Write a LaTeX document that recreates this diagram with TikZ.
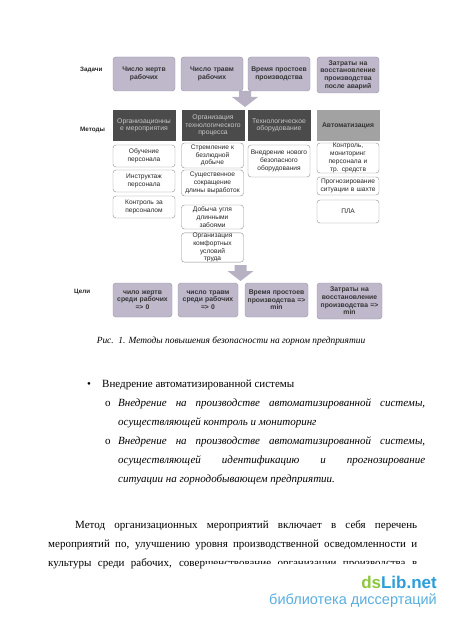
\documentclass[tikz,border=0pt]{standalone}
\usepackage{fontspec}
\setmainfont{Liberation Serif}
\setsansfont{Liberation Sans}
\usepackage{xcolor}
\usepackage{tikz}
\usetikzlibrary{arrows.meta}
\definecolor{zadfill}{HTML}{BFB8CB}
\definecolor{zadline}{HTML}{9890A4}
\definecolor{metfill}{HTML}{4B4B4B}
\definecolor{mettext}{HTML}{C9C9C9}
\definecolor{avtfill}{HTML}{A2A2A2}
\definecolor{subline}{HTML}{8C8C8C}
\definecolor{arrfill}{HTML}{B8B1C3}
\definecolor{dsgreen}{HTML}{8DC63F}
\definecolor{dsblue}{HTML}{2B9ED8}
\definecolor{dslight}{HTML}{5AAEDF}
\newcommand\jline[2]{\hbox to #1{\spaceskip=.25em plus 1fil\relax#2}}

\begin{document}
\begin{tikzpicture}[x=1pt,y=-1pt,
zad/.style={draw=zadline,fill=zadfill,rounded corners=3pt,align=center,inner xsep=1pt,inner ysep=0pt,text width=60pt,text=black!80,font=\sffamily\bfseries\fontsize{6.8}{7.6}\selectfont},
met/.style={fill=metfill,text=mettext,align=center,inner xsep=1pt,inner ysep=0pt,text width=61pt,minimum height=31pt,font=\sffamily\fontsize{6.8}{7.6}\selectfont},
sub/.style={draw=subline,fill=white,rounded corners=3pt,align=center,inner xsep=1pt,inner ysep=0pt,text width=60pt,text=black!85,font=\sffamily\fontsize{6.6}{7.8}\selectfont},
lbl/.style={anchor=west,inner sep=0pt,text=black!85,font=\sffamily\bfseries\fontsize{6.3}{7}\selectfont},
txt/.style={anchor=base west,inner sep=0pt,font=\fontsize{11}{19}\selectfont}]
\fill[white](0,0)rectangle(450,620);
\useasboundingbox(0,0)rectangle(450,620);
% row labels
\node[lbl](tasks)at(80,70){Задачи};
\node[lbl](methods)at(80,130){Методы};
\node[lbl](goals)at(74,292){Цели};
% tasks
\node[zad,minimum height=34pt](z1)at(144,74){Число жертв\\рабочих};
\node[zad,minimum height=34pt](z2)at(212,74){Число травм\\рабочих};
\node[zad,minimum height=34pt](z3)at(279,74){Время простоев\\производства};
\node[zad,minimum height=36pt](z4)at(348,75){Затраты на\\восстановление\\производства\\после аварий};
% methods
\node[met](m1)at(144,125.5){Организационны\\е мероприятия};
\node[met](m2)at(213,125.5){Организация\\технологического\\процесса};
\node[met](m3)at(279,125.5){Технологическое\\оборудование};
\node[met,fill=avtfill,text=black!80,font=\sffamily\bfseries\fontsize{6.8}{7.6}\selectfont](m4)at(348,125.5){Автоматизация};
\node[sub,minimum height=22pt](s11)at(144,156){Обучение\\персонала};
\node[sub,minimum height=22pt](s12)at(144,181){Инструктаж\\персонала};
\node[sub,minimum height=22pt](s13)at(144,207){Контроль за\\персоналом};
\node[sub,minimum height=25pt](s21)at(212.5,155.5){Стремление к\\безлюдной\\добыче};
\node[sub,minimum height=26pt](s22)at(212.5,183){Существенное\\сокращение\\длины выработок};
\node[sub,minimum height=24pt](s23)at(212.5,217){Добыча угля\\длинными\\забоями};
\node[sub,minimum height=29pt](s24)at(212.5,247.5){Организация\\комфортных\\условий\\труда};
\node[sub,minimum height=32pt](s31)at(279,161){Внедрение нового\\безопасного\\оборудования};
\node[sub,minimum height=30pt](s41)at(348,158){Контроль,\\мониторинг\\персонала и\\тр. средств};
\node[sub,minimum height=18pt](s42)at(348,186){Прогнозирование\\ситуации в шахте};
\node[sub,minimum height=23pt](s43)at(348,211.5){ПЛА};
% goals
\node[zad,minimum height=34pt,text width=57pt](g1)at(142.5,300){чило жертв\\среди рабочих\\=> 0};
\node[zad,minimum height=34pt,text width=58pt](g2)at(208,300){число травм\\среди рабочих\\=> 0};
\node[zad,minimum height=34pt,text width=61pt](g3)at(276.5,300){Время простоев\\производства =>\\min};
\node[zad,minimum height=36pt,text width=63pt](g4)at(349.5,301){Затраты на\\восстановление\\производства =>\\min};
% block arrows
\foreach \cx/\ty in {245/91,240.5/265}
\fill[arrfill](\cx-6,\ty)--++(12,0)--++(0,6)--++(7,0)--++(-13,10)--++(-13,-10)--++(7,0)--cycle;
% caption
\node[inner sep=0pt,font=\itshape\fontsize{9.4}{11}\selectfont](cap)at(231,341){Рис.~~1. Методы повышения безопасности на горном предприятии};
% list
\node[txt](b0)at(87,387.5){•};
\node[txt](b1)at(102,387.5){Внедрение автоматизированной системы};
\node[txt](o1)at(105,406){o};
\node[txt](o2)at(105,444){o};
\node[txt,font=\itshape\fontsize{11}{19}\selectfont](l1)at(118,406){\jline{307pt}{Внедрение на производстве автоматизированной системы,}};
\node[txt,font=\itshape\fontsize{11}{19}\selectfont](l2)at(118,425){осуществляющей контроль и мониторинг};
\node[txt,font=\itshape\fontsize{11}{19}\selectfont](l3)at(118,444){\jline{307pt}{Внедрение на производстве автоматизированной системы,}};
\node[txt,font=\itshape\fontsize{11}{19}\selectfont](l4)at(118,463){\jline{307pt}{осуществляющей идентификацию и прогнозирование}};
\node[txt,font=\itshape\fontsize{11}{19}\selectfont](l5)at(118,482){ситуации на горнодобывающем предприятии.};
% paragraph
\node[txt](p1)at(75,528){\jline{342pt}{Метод организационных мероприятий включает в себя перечень}};
\node[txt](p2)at(48,547){\jline{369pt}{мероприятий по, улучшению уровня производственной осведомленности и}};
\node[txt](p3)at(48,566){\jline{369pt}{культуры среди рабочих, совершенствование организации производства в}};
% watermark
\fill[white](205,563.5)rectangle(450,620);
\node[anchor=base east,inner sep=0pt,font=\sffamily\bfseries\fontsize{17}{17}\selectfont](wm)at(437,588){\textcolor{dsgreen}{ds}\textcolor{dsblue}{Lib.net}};
\node[anchor=base east,inner sep=0pt,text=dslight,font=\sffamily\fontsize{14.5}{15}\selectfont](wm2)at(437,604){библиотека диссертаций};
\end{tikzpicture}
\end{document}
